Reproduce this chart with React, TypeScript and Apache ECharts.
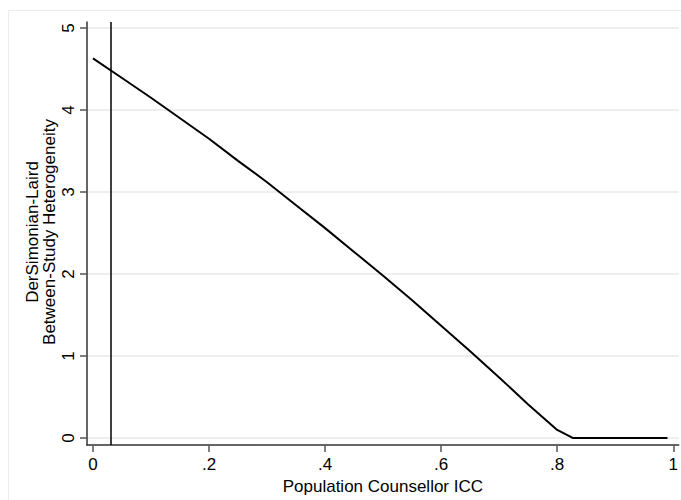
import React, { useEffect, useRef } from "react";
import * as echarts from "echarts";

const xValues = [0, 0.05, 0.1, 0.15, 0.2, 0.25, 0.3, 0.35, 0.4, 0.45, 0.5, 0.55, 0.6, 0.65, 0.7, 0.75, 0.8, 0.8275, 0.85, 0.9, 0.95, 0.99];
const yValues = [4.63, 4.39, 4.15, 3.9, 3.65, 3.38, 3.12, 2.84, 2.56, 2.27, 1.98, 1.68, 1.37, 1.06, 0.74, 0.41, 0.1, 0, 0, 0, 0, 0];
const xTicks = [0, 0.2, 0.4, 0.6, 0.8, 1];
const yTicks = [0, 1, 2, 3, 4, 5];
const refLineX = 0.0338;
const xTitle = "Population Counsellor ICC";
const yTitle = "DerSimonian-Laird\nBetween-Study Heterogeneity";

const FONT = "'Liberation Sans', Arial, sans-serif";

function fmtX(v: number): string {
  if (Math.abs(v) < 1e-9) return "0";
  if (Math.abs(v - 1) < 1e-9) return "1";
  return String(Math.round(v * 10) / 10).replace(/^0/, "");
}

export default function App() {
  const ref = useRef<HTMLDivElement>(null);
  useEffect(() => {
    if (!ref.current) return;
    const chart = echarts.init(ref.current, undefined, { renderer: "svg" });
    const data = xValues.map((x, i) => [x, yValues[i]]);
    chart.setOption({
      animation: false,
      backgroundColor: "#ffffff",
      textStyle: { fontFamily: FONT },
      grid: { left: 87, top: 22, right: 0, bottom: 54, containLabel: false },
      graphic: [
        {
          type: "rect",
          shape: { x: 8.5, y: 10.5, width: 720, height: 520 },
          style: { fill: "none", stroke: "#ececec", lineWidth: 1 },
          silent: true,
          z: -1,
        },
        {
          type: "text",
          x: 41,
          y: 232,
          rotation: Math.PI / 2,
          style: {
            text: yTitle,
            fontSize: 17,
            fontFamily: FONT,
            fill: "#000",
            textAlign: "center",
            textVerticalAlign: "middle",
            lineHeight: 17,
          },
        },
      ],
      xAxis: {
        type: "value",
        min: -0.0103,
        max: 1.0094,
        name: xTitle,
        nameLocation: "middle",
        nameGap: 28,
        nameTextStyle: { fontSize: 17, color: "#000", fontFamily: FONT },
        axisLine: { show: true, onZero: false, lineStyle: { color: "#333", width: 1.5 } },
        axisTick: { show: true, customValues: xTicks, length: 7, lineStyle: { color: "#555", width: 1.5 } },
        axisLabel: { customValues: xTicks, formatter: (v: number) => fmtX(v), fontSize: 17, color: "#000", margin: 11, fontFamily: FONT },
        splitLine: { show: false },
      },
      yAxis: {
        type: "value",
        min: -0.0852,
        max: 5.073,
        axisLine: { show: true, onZero: false, lineStyle: { color: "#333", width: 1.5 } },
        axisTick: { show: true, customValues: yTicks, length: 7, lineStyle: { color: "#555", width: 1.5 } },
        axisLabel: { customValues: yTicks, rotate: 90, formatter: (v: number) => String(v), fontSize: 17, color: "#000", margin: 10, fontFamily: FONT },
        splitLine: { show: false },
      },
      series: [
        {
          type: "line",
          data: [[0, 0]],
          showSymbol: false,
          lineStyle: { opacity: 0 },
          silent: true,
          z: 0,
          markLine: {
            silent: true,
            z: 0,
            symbol: ["none", "none"],
            label: { show: false },
            lineStyle: { color: "#e8e8e8", width: 1.5, type: "solid" },
            data: yTicks.map((v) => ({ yAxis: v })),
          },
        },
        {
          type: "line",
          data,
          showSymbol: false,
          silent: true,
          lineStyle: { color: "#000", width: 2 },
          z: 6,
          markLine: {
            silent: true,
            z: 6,
            symbol: ["none", "none"],
            label: { show: false },
            lineStyle: { color: "#000", width: 1.5, type: "solid" },
            data: [{ xAxis: refLineX }],
          },
        },
      ],
    });
    return () => chart.dispose();
  }, []);
  return <div ref={ref} style={{ position: "fixed", left: 0, top: 0, width: 681, height: 500 }} />;
}
